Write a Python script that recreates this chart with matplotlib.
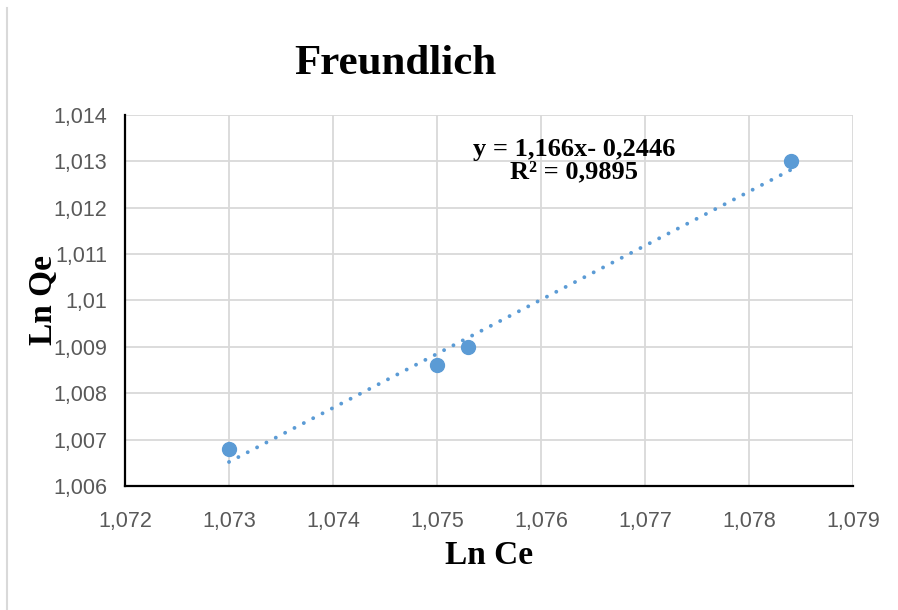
import numpy as np
import matplotlib.pyplot as plt
from matplotlib.lines import Line2D
from matplotlib.ticker import FixedLocator, FixedFormatter

# --------------------------------------------------------------
# Data
# --------------------------------------------------------------
ln_ce = [1.0730, 1.0750, 1.0753, 1.0784]
ln_qe = [1.0068, 1.0086, 1.0090, 1.0130]

slope = 1.166
intercept = -0.2446
r2 = 0.9895

x_ticks = [1.072, 1.073, 1.074, 1.075, 1.076, 1.077, 1.078, 1.079]
x_labels = ["1,072", "1,073", "1,074", "1,075", "1,076", "1,077", "1,078", "1,079"]
y_ticks = [1.006, 1.007, 1.008, 1.009, 1.010, 1.011, 1.012, 1.013, 1.014]
y_labels = ["1,006", "1,007", "1,008", "1,009", "1,01", "1,011", "1,012", "1,013", "1,014"]

blue = "#5B9BD5"
serif = "Liberation Serif"

# --------------------------------------------------------------
# Plot
# --------------------------------------------------------------
fig = plt.figure(figsize=(8.98, 6.10), dpi=100)
ax = fig.add_axes([0.1392, 0.2033, 0.8107, 0.6082])

# linear trendline over the data range
xs = np.array([min(ln_ce), max(ln_ce)])
ax.plot(xs, slope * xs + intercept, color=blue, lw=2.8,
        linestyle=(0, (0.01, 2.7)), dash_capstyle="round", zorder=2)
ax.plot(ln_ce, ln_qe, "o", color=blue, markersize=10, zorder=3)

ax.set_xlim(1.072, 1.079)
ax.set_ylim(1.006, 1.014)
ax.xaxis.set_major_locator(FixedLocator(x_ticks))
ax.xaxis.set_major_formatter(FixedFormatter(x_labels))
ax.yaxis.set_major_locator(FixedLocator(y_ticks))
ax.yaxis.set_major_formatter(FixedFormatter(y_labels))
ax.tick_params(length=0, labelsize=15.5, labelcolor="#595959")
ax.tick_params(axis="x", pad=18)
ax.tick_params(axis="y", pad=13)
for lbl in ax.get_xticklabels() + ax.get_yticklabels():
    lbl.set_family("Liberation Sans")

ax.grid(True, color="#D9D9D9", lw=1.3)
ax.set_axisbelow(True)
for side in ["top", "right"]:
    ax.spines[side].set_visible(False)
for side in ["left", "bottom"]:
    ax.spines[side].set_linewidth(1.6)
    ax.spines[side].set_color("black")

ax.set_xlabel("Ln Ce", fontsize=24, fontweight="bold", family=serif, labelpad=6)
ax.set_ylabel("Ln Qe", fontsize=24, fontweight="bold", family=serif, labelpad=-4)

fig.text(395 / 898, 1 - 64 / 610, "Freundlich", fontsize=31, fontweight="bold",
         family=serif, ha="center", va="center")

ax.text(1.07632, 1.01301, "y = 1,166x- 0,2446\nR² = 0,9895", fontsize=19,
        fontweight="bold", family=serif, ha="center", va="center",
        multialignment="center", linespacing=0.95)

# left border of the chart area
fig.add_artist(Line2D([7 / 898, 7 / 898], [0, 1 - 8 / 610], color="#D9D9D9", lw=1.5))

fig.savefig("out.png", dpi=100)
